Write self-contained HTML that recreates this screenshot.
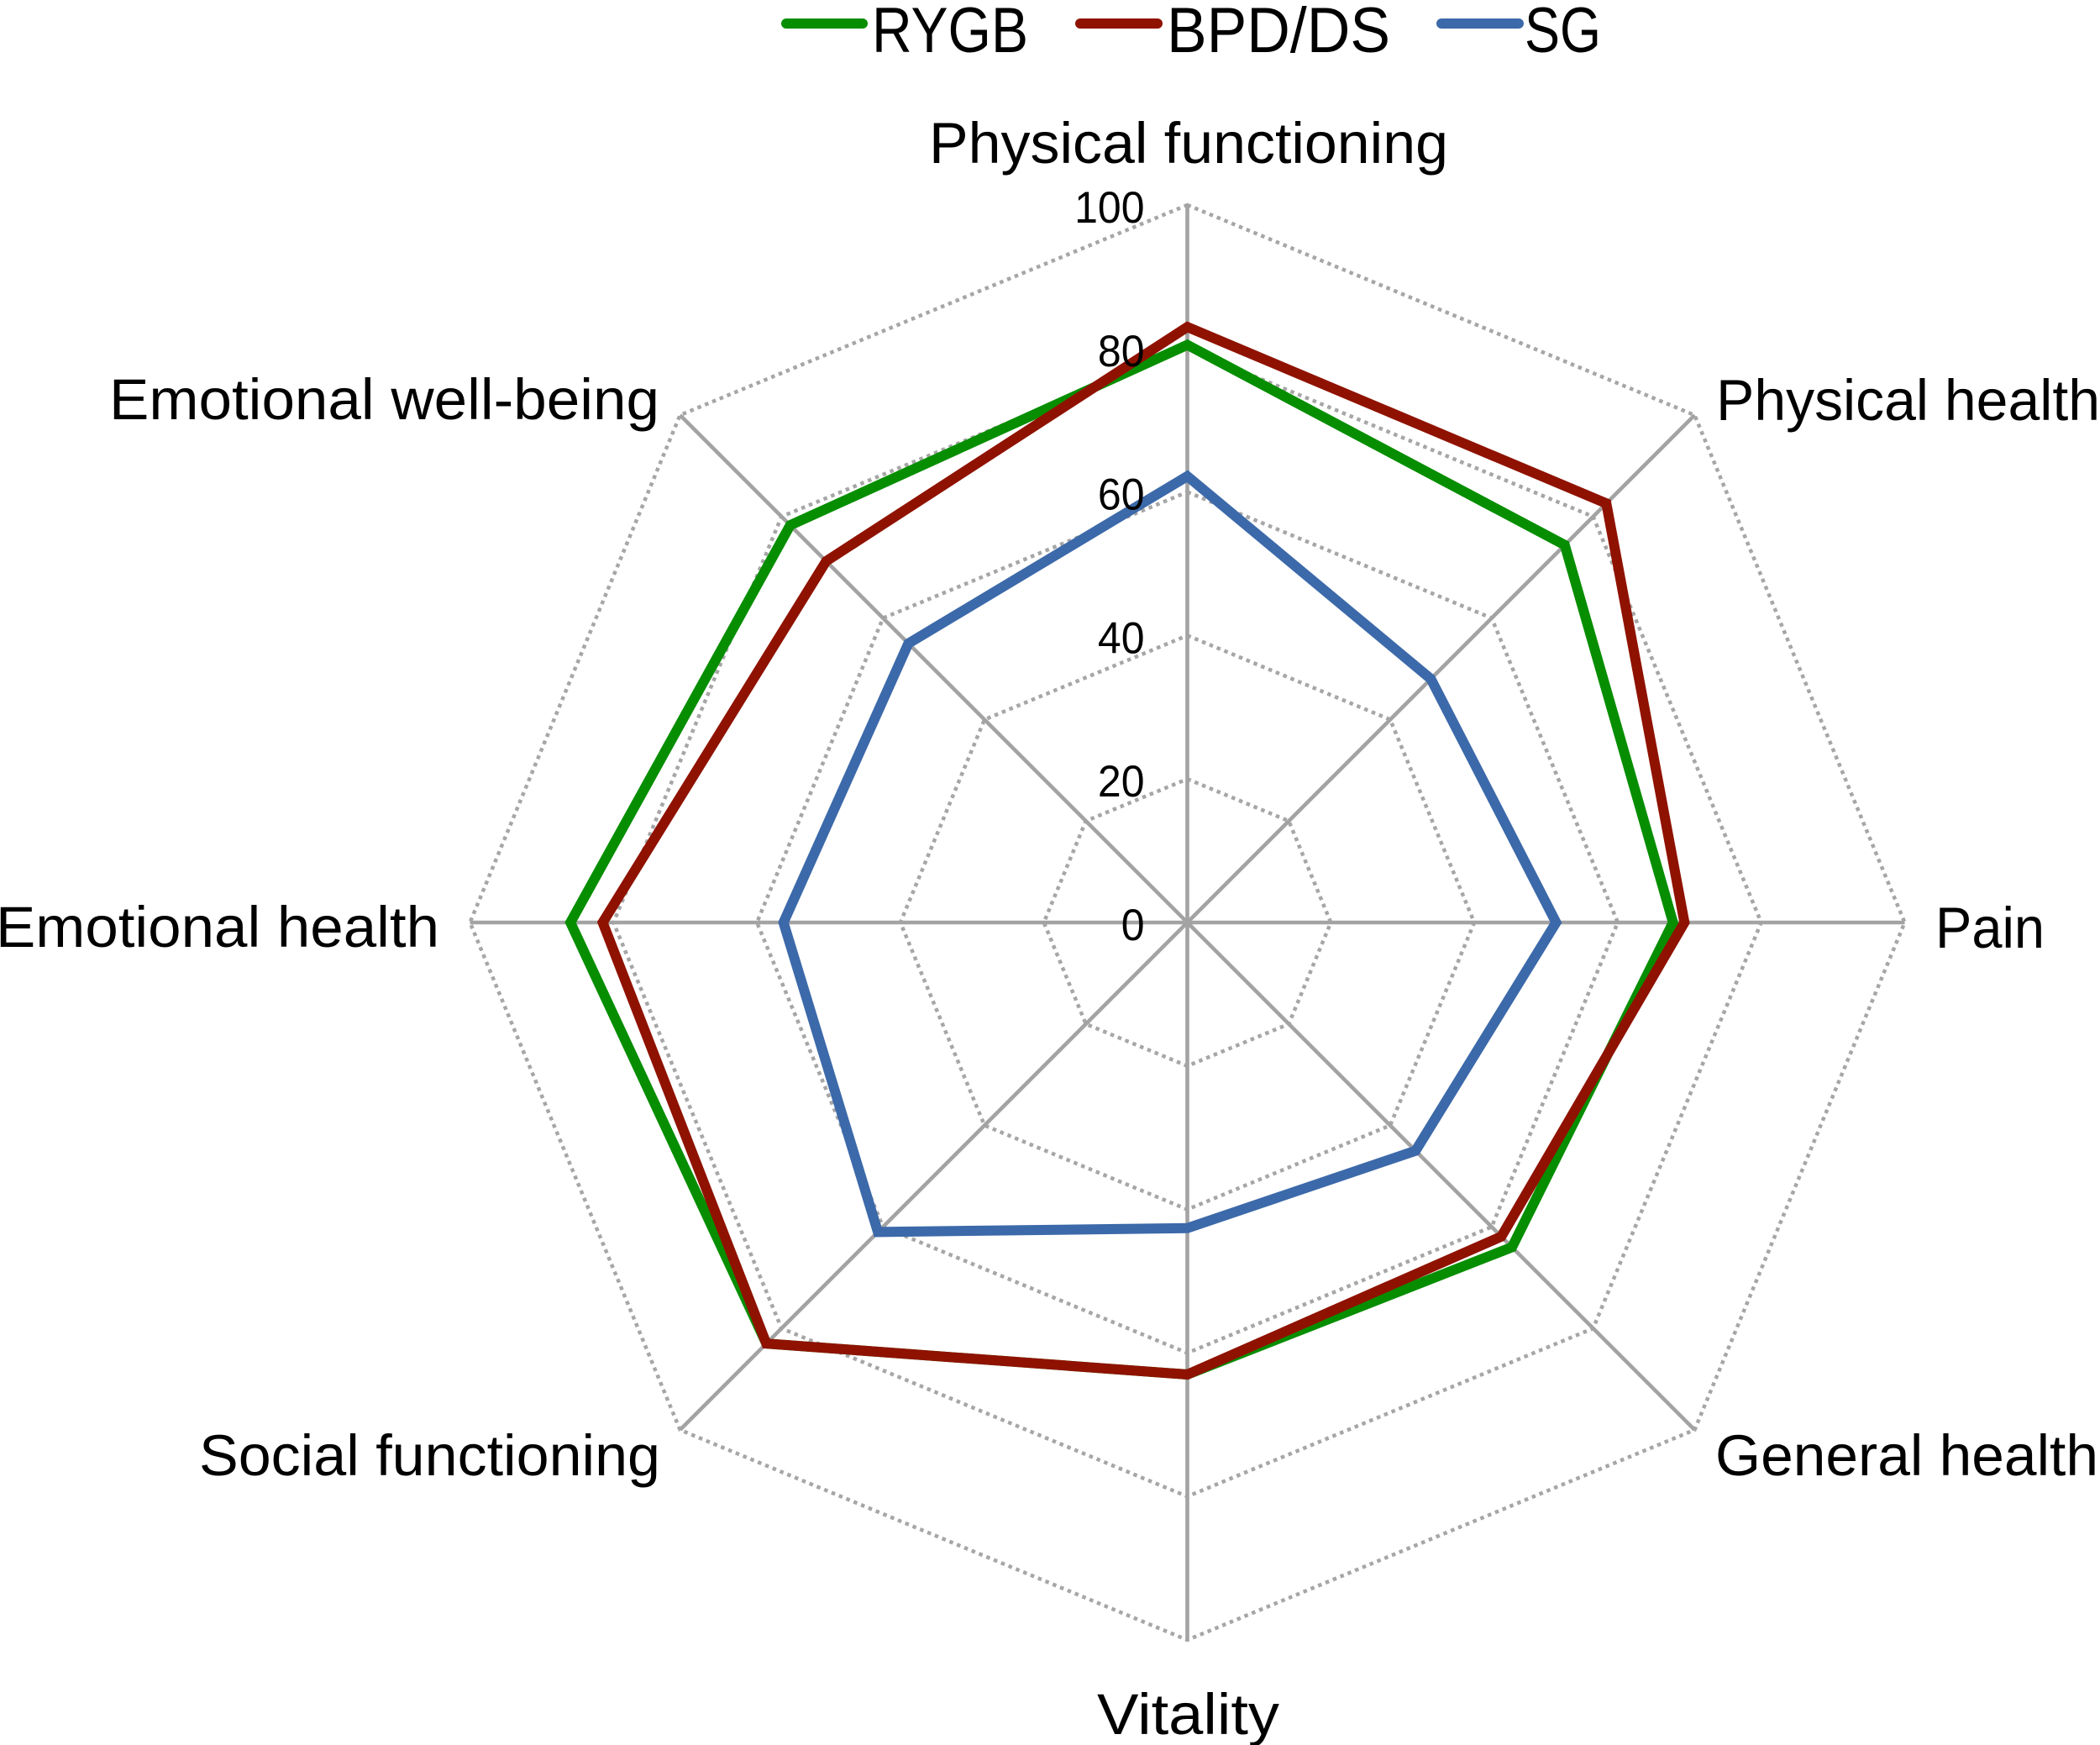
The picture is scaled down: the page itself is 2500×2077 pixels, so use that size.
<!DOCTYPE html>
<html lang="en">
<head>
<meta charset="utf-8">
<title>Radar chart of quality-of-life domains</title>
<style>
html,body{margin:0;padding:0;background:#fff;}
body{width:2500px;height:2077px;overflow:hidden;}
svg{display:block;}
text{font-family:"Liberation Sans",sans-serif;fill:#000;}
</style>
</head>
<body>
<svg id="chart" xmlns="http://www.w3.org/2000/svg" width="2500" height="2077" viewBox="0 0 2500 2077">
  <rect x="0" y="0" width="2500" height="2077" fill="#ffffff"/>
  <g id="grid"></g>
  <g id="axes"></g>
  <g id="series"></g>
  <g id="ticks"></g>

  <g font-size="69">
    <text x="1106" y="194" textLength="618" lengthAdjust="spacingAndGlyphs">Physical functioning</text>
    <text x="2043" y="500" textLength="457" lengthAdjust="spacingAndGlyphs">Physical health</text>
    <text x="2304" y="1128" textLength="130" lengthAdjust="spacingAndGlyphs">Pain</text>
    <text x="2042" y="1756" textLength="456" lengthAdjust="spacingAndGlyphs">General health</text>
    <text x="1306" y="2064" textLength="217" lengthAdjust="spacingAndGlyphs">Vitality</text>
    <text x="237" y="1756" textLength="549" lengthAdjust="spacingAndGlyphs">Social functioning</text>
    <text x="-5" y="1127" textLength="528" lengthAdjust="spacingAndGlyphs">Emotional health</text>
    <text x="130" y="499" textLength="655" lengthAdjust="spacingAndGlyphs">Emotional well-being</text>
  </g>

  <g font-size="76">
    <g>
      <line x1="936" y1="28" x2="1027" y2="28" stroke="#078e00" stroke-width="12" stroke-linecap="round"/>
      <text x="1038" y="62" textLength="186" lengthAdjust="spacingAndGlyphs">RYGB</text>
    </g>
    <g>
      <line x1="1286" y1="28" x2="1378" y2="28" stroke="#8f1200" stroke-width="12" stroke-linecap="round"/>
      <text x="1389" y="62" textLength="266" lengthAdjust="spacingAndGlyphs">BPD/DS</text>
    </g>
    <g>
      <line x1="1716" y1="28" x2="1808" y2="28" stroke="#3c69a9" stroke-width="12" stroke-linecap="round"/>
      <text x="1815" y="62" textLength="91" lengthAdjust="spacingAndGlyphs">SG</text>
    </g>
  </g>
</svg>

<script>
// Data
const categories = ["Physical functioning","Physical health","Pain","General health","Vitality","Social functioning","Emotional health","Emotional well-being"];
const tickValues = [0,20,40,60,80,100];
const rygbValues = [80.5,74.4,67.7,64,63,83,86,78.3];
const bpdValues = [83,82.6,69.3,61.9,63,83,81.5,71.2];
const sgValues = [62.2,48,51.4,45,42.6,61,56.3,55];

// Axis functions
const NS = "http://www.w3.org/2000/svg";
const centerX = 1413.5, centerY = 1098, maxRadius = 854, maxValue = 100;
function radius(v){ return v / maxValue * maxRadius; }
function angle(i){ return i / categories.length * 2 * Math.PI; }
function px(i, v){ return centerX + radius(v) * Math.sin(angle(i)); }
function py(i, v){ return centerY - radius(v) * Math.cos(angle(i)); }
function ring(vals){ return vals.map(function(v, i){ return px(i, v).toFixed(1) + "," + py(i, v).toFixed(1); }).join(" "); }

// Gridlines
const gridG = document.getElementById("grid");
tickValues.filter(function(t){ return t > 0; }).forEach(function(t){
  const poly = document.createElementNS(NS, "polygon");
  
  
  poly.setAttribute("points", ring(categories.map(function(){ return t; })));
  poly.setAttribute("fill", "none");
  poly.setAttribute("stroke", "#a6a6a6");
  poly.setAttribute("stroke-width", "4.5");
  poly.setAttribute("stroke-dasharray", "4.5 5");
  gridG.appendChild(poly);
});

// Spokes
const axesG = document.getElementById("axes");
categories.forEach(function(c, i){
  const ln = document.createElementNS(NS, "line");
  
  
  ln.setAttribute("x1", centerX);
  ln.setAttribute("y1", centerY);
  ln.setAttribute("x2", px(i, maxValue));
  ln.setAttribute("y2", py(i, maxValue));
  ln.setAttribute("stroke", "#a3a3a3");
  ln.setAttribute("stroke-width", "4.6");
  axesG.appendChild(ln);
});

// Tick labels
const ticksG = document.getElementById("ticks");
tickValues.forEach(function(t){
  const tx = document.createElementNS(NS, "text");
  const label = String(t);
  
  
  tx.setAttribute("x", centerX - 51 - 27.8 * label.length);
  tx.setAttribute("y", centerY - radius(t) + 21);
  tx.setAttribute("font-size", "53");
  tx.setAttribute("textLength", 27.8 * label.length);
  tx.setAttribute("lengthAdjust", "spacingAndGlyphs");
  tx.textContent = label;
  ticksG.appendChild(tx);
});

// Series
const seriesG = document.getElementById("series");
function drawSeries(name, vals, color){
  const poly = document.createElementNS(NS, "polygon");
  
  
  poly.setAttribute("points", ring(vals));
  poly.setAttribute("fill", "none");
  poly.setAttribute("stroke", color);
  poly.setAttribute("stroke-width", "12");
  poly.setAttribute("stroke-linejoin", "miter");
  seriesG.appendChild(poly);
}
drawSeries("rygb", rygbValues, "#078e00");
drawSeries("bpd-ds", bpdValues, "#8f1200");
drawSeries("sg", sgValues, "#3c69a9");
</script>
</body>
</html>
